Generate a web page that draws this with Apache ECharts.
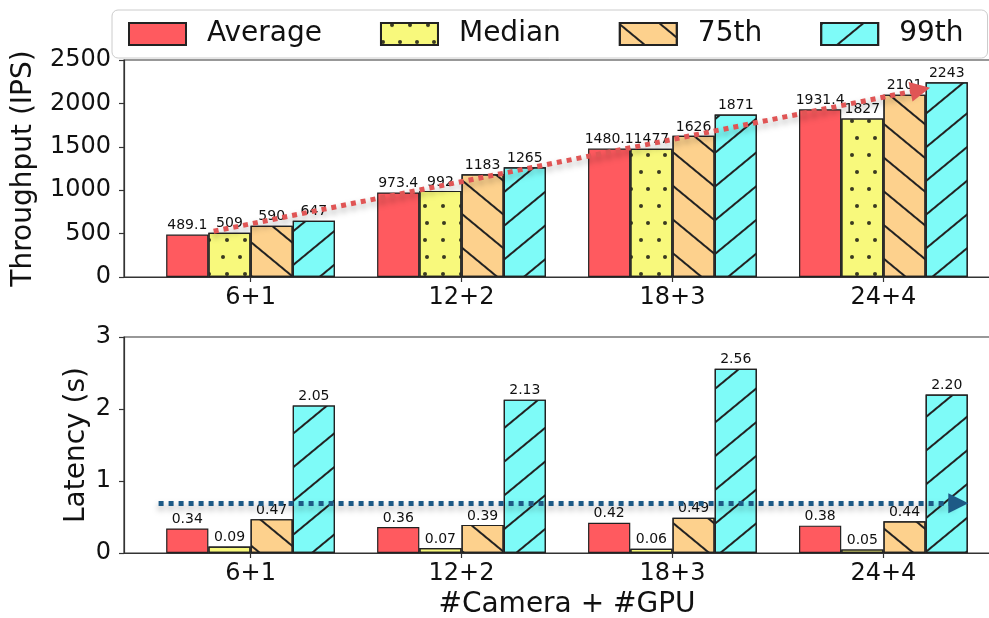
<!DOCTYPE html>
<html><head><meta charset="utf-8">
<script src="https://cdn.jsdelivr.net/npm/echarts@6.0.0/dist/echarts.min.js"></script>
<style>html,body{margin:0;padding:0;background:#fff}#c{width:989px;height:618px}</style>
</head><body><div id="c"></div>
<script>
const categories = ['6+1', '12+2', '18+3', '24+4'];
const seriesNames = ['Average', 'Median', '75th', '99th'];
const throughputAverage = [489.1, 973.4, 1480.1, 1931.4];
const throughputMedian = [509, 992, 1477, 1827];
const throughput75th = [590, 1183, 1626, 2101];
const throughput99th = [647, 1265, 1871, 2243];
const latencyAverage = [0.34, 0.36, 0.42, 0.38];
const latencyMedian = [0.09, 0.07, 0.06, 0.05];
const latency75th = [0.47, 0.39, 0.49, 0.44];
const latency99th = [2.05, 2.13, 2.56, 2.20];
const throughputTicks = [0, 500, 1000, 1500, 2000, 2500];
const latencyTicks = [0, 1, 2, 3];
// trend arrows, in data units [category position, value]
const throughputTrend = [[-0.175, 527], [3.175, 2157]];
const latencyTrend = [[-0.436, 0.69], [3.355, 0.69]];

const FONT = 'DejaVu Sans';
const colors = ['#ff5a5f', '#f8f97c', '#fdd18d', '#7efbf8'];
const decals = [
  null,
  {symbol: 'circle', symbolSize: 1, color: '#3a3a22', dashArrayX: [[4, 12.7], [0, 8.35, 4, 4.35]], dashArrayY: [4, 13], rotation: 0},
  {symbol: 'rect', symbolSize: 1, color: '#222', dashArrayX: [1, 0], dashArrayY: [2, 23.3], rotation: 0.69},
  {symbol: 'rect', symbolSize: 1, color: '#222', dashArrayX: [1, 0], dashArrayY: [2, 23.3], rotation: -0.69}
];
const catPos = categories.map((c, i) => i);

function xAxis(gridIndex, name) {
  return {
    type: 'value', gridIndex: gridIndex, min: -0.6, max: 3.6,
    axisLine: {show: true, onZero: false, lineStyle: {color: '#333', width: 1.2}},
    axisTick: {show: true, inside: false, length: 5, customValues: catPos, lineStyle: {color: '#333', width: 1.2}},
    axisLabel: {show: true, customValues: catPos, formatter: v => categories[Math.round(v)],
      fontFamily: FONT, fontSize: 24, color: '#111', margin: 9},
    splitLine: {show: false},
    name: name, nameLocation: 'middle', nameGap: 38, nameMoveOverlap: false,
    nameTextStyle: {fontFamily: FONT, fontSize: 28, color: '#111'}
  };
}
function yAxis(gridIndex, ticks, name, gap) {
  return {
    type: 'value', gridIndex: gridIndex, min: ticks[0], max: ticks[ticks.length - 1],
    interval: ticks[1] - ticks[0],
    axisLine: {show: true, onZero: false, lineStyle: {color: '#333', width: 1.2}},
    axisTick: {show: true, inside: false, length: 5, lineStyle: {color: '#333', width: 1.2}},
    axisLabel: {fontFamily: FONT, fontSize: 24, color: '#111', margin: 13, formatter: v => String(v)},
    splitLine: {show: false},
    name: name, nameLocation: 'middle', nameGap: gap, nameMoveOverlap: false,
    nameTextStyle: {fontFamily: FONT, fontSize: 28, color: '#111'}
  };
}
function barSeries(name, idx, values, gridIndex, fmt) {
  const s = {
    type: 'bar', name: name, xAxisIndex: gridIndex, yAxisIndex: gridIndex,
    data: values.map((v, i) => [catPos[i], v]),
    barWidth: 42.2, barGap: '0%',
    itemStyle: {color: colors[idx], borderColor: '#222', borderWidth: 1.2},
    label: {show: true, position: 'top', distance: 2, fontFamily: FONT, fontSize: 14, color: '#111', formatter: fmt},
    emphasis: {disabled: true},
    z: 2
  };
  if (decals[idx]) s.itemStyle.decal = decals[idx];
  return s;
}
function trendSeries(points, color, gridIndex) {
  return {
    type: 'line', name: 'trend' + gridIndex, xAxisIndex: gridIndex, yAxisIndex: gridIndex,
    data: [], silent: true, z: 5,
    markLine: {
      silent: true, animation: false,
      symbol: ['none', 'triangle'], symbolSize: 20,
      label: {show: false},
      lineStyle: {color: color, width: 5, type: [5, 5], cap: 'butt',
        shadowColor: 'rgba(0,0,0,0.35)', shadowBlur: 6, shadowOffsetY: 4},
      emphasis: {disabled: true},
      data: [[{coord: points[0]}, {coord: points[1]}]]
    }
  };
}
const tFmt = p => String(p.value[1]);
const lFmt = p => p.value[1].toFixed(2);
const tVals = [throughputAverage, throughputMedian, throughput75th, throughput99th];
const lVals = [latencyAverage, latencyMedian, latency75th, latency99th];
const series = [];
seriesNames.forEach((n, i) => series.push(barSeries(n, i, tVals[i], 0, tFmt)));
seriesNames.forEach((n, i) => series.push(barSeries(n, i, lVals[i], 1, lFmt)));
series.push(trendSeries(throughputTrend, '#e05555', 0));
series.push(trendSeries(latencyTrend, '#1d5a86', 1));

const chart = echarts.init(document.getElementById('c'), null, {renderer: 'canvas'});
chart.setOption({
  animation: false,
  backgroundColor: '#fff',
  legend: {
    left: 112, top: 10, itemWidth: 57, itemHeight: 22, itemGap: 58, icon: 'rect',
    padding: [10, 24, 10, 16], backgroundColor: '#fff', borderColor: '#ccc', borderWidth: 1, borderRadius: 6,
    textStyle: {fontFamily: FONT, fontSize: 28, color: '#111', lineHeight: 28, padding: [0, 0, 0, 16]},
    data: seriesNames, selectedMode: false
  },
  grid: [
    {left: 124, width: 886, top: 60, height: 217, show: true, borderColor: '#333', borderWidth: 1.2, containLabel: false, outerBoundsMode: 'none'},
    {left: 124, width: 886, top: 337, height: 216, show: true, borderColor: '#333', borderWidth: 1.2, containLabel: false, outerBoundsMode: 'none'}
  ],
  xAxis: [xAxis(0, ''), xAxis(1, '#Camera + #GPU')],
  yAxis: [yAxis(0, throughputTicks, 'Throughput (IPS)', 86), yAxis(1, latencyTicks, 'Latency (s)', 33)],
  series: series
});
</script>
</body></html>
